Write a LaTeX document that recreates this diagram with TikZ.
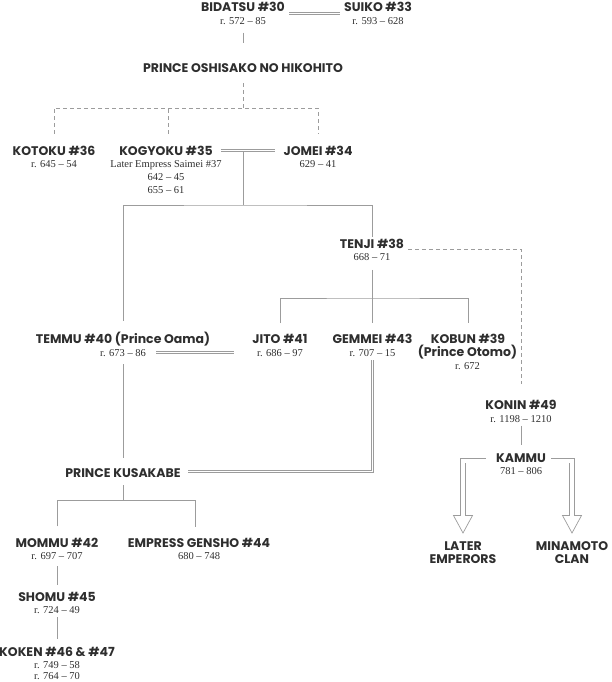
\documentclass[tikz,border=0pt]{standalone}
\usepackage{fontspec}
\usepackage{xcolor}
\usepackage{tikz}
\usetikzlibrary{positioning, calc}
\setmainfont{Liberation Serif}
\newfontfamily\namefont{Poppins}
\definecolor{ink}{HTML}{2E2E2E}
\definecolor{rule}{HTML}{9C9C9C}

\begin{document}
\begin{tikzpicture}[x=1pt, y=-1pt,
    who/.style={inner sep=0pt, anchor=base, text=ink, font=\namefont\bfseries\fontsize{12.5}{13}\selectfont},
    reign/.style={inner sep=0pt, align=center, text=ink, font=\fontsize{10.5}{13}\selectfont},
    kin/.style={draw=rule, line width=0.7pt},
    adopt/.style={draw=rule, line width=0.7pt, dash pattern=on 4pt off 3pt},
    wed/.style={draw=rule, line width=2.8pt, postaction={draw=white, line width=1.2pt}},
    descent/.style={draw=rule, line width=5.4pt, postaction={draw=white, line width=4pt}}]

    \useasboundingbox (0,0) rectangle (612,682);

    \node[who] (bidatsu) at (243,12) {BIDATSU \#30};
    \node[reign, below=5.5pt of bidatsu.base] (bidatsu-r) {r. 572 -- 85};
    \node[who] (suiko) at (378,12) {SUIKO \#33};
    \node[reign, below=5.5pt of suiko.base] (suiko-r) {r. 593 -- 628};

    \node[who] (oshisako) at (243,73) {PRINCE OSHISAKO NO HIKOHITO};

    \node[who] (kotoku) at (54,155) {KOTOKU \#36};
    \node[reign, below=5.5pt of kotoku.base] (kotoku-r) {r. 645 -- 54};
    \node[who] (kogyoku) at (166,155) {KOGYOKU \#35};
    \node[reign, below=5.5pt of kogyoku.base] (kogyoku-r) {Later Empress Saimei \#37\\642 -- 45\\655 -- 61};
    \node[who] (jomei) at (318,155) {JOMEI \#34};
    \node[reign, below=5.5pt of jomei.base] (jomei-r) {629 -- 41};

    \node[who] (tenji) at (372,248) {TENJI \#38};
    \node[reign, below=5.5pt of tenji.base] (tenji-r) {668 -- 71};

    \node[who] (temmu) at (123,343.5) {TEMMU \#40 (Prince Oama)};
    \node[reign, below=5.5pt of temmu.base] (temmu-r) {r. 673 -- 86};
    \node[who] (jito) at (280,343.5) {JITO \#41};
    \node[reign, below=5.5pt of jito.base] (jito-r) {r. 686 -- 97};
    \node[who] (gemmei) at (372.5,343.5) {GEMMEI \#43};
    \node[reign, below=5.5pt of gemmei.base] (gemmei-r) {r. 707 -- 15};
    \node[who] (kobun) at (468,343.5) {KOBUN \#39};
    \node[who] (kobun-alias) at (467.5,356.5) {(Prince Otomo)};
    \node[reign, below=5.5pt of kobun-alias.base] (kobun-r) {r. 672};

    \node[who] (konin) at (521,409.5) {KONIN \#49};
    \node[reign, below=5.5pt of konin.base] (konin-r) {r. 1198 -- 1210};
    \node[who] (kammu) at (521,462) {KAMMU};
    \node[reign, below=5.5pt of kammu.base] (kammu-r) {781 -- 806};

    \node[who] (kusakabe) at (123,477) {PRINCE KUSAKABE};

    \node[who] (mommu) at (57,547) {MOMMU \#42};
    \node[reign, below=5.5pt of mommu.base] (mommu-r) {r. 697 -- 707};
    \node[who] (gensho) at (199,547) {EMPRESS GENSHO \#44};
    \node[reign, below=5.5pt of gensho.base] (gensho-r) {680 -- 748};
    \node[who] (shomu) at (57,601) {SHOMU \#45};
    \node[reign, below=5.5pt of shomu.base] (shomu-r) {r. 724 -- 49};
    \node[who] (koken) at (57,656) {KOKEN \#46 \& \#47};
    \node[reign, below=5.5pt of koken.base, font=\fontsize{10.5}{11}\selectfont] (koken-r) {r. 749 -- 58\\r. 764 -- 70};

    \node[who, anchor=north, align=center] (later) at (463,541.5) {LATER\\EMPERORS};
    \node[who, anchor=north, align=center] (minamoto) at (572,541.5) {MINAMOTO\\CLAN};

    \coordinate (oshi-split) at (243,108);
    \coordinate (kj-top) at (243,152);
    \coordinate (kj-split) at (243,205);
    \coordinate (tenji-split) at (372,298);
    \coordinate (kusa-split) at (123,500.7);
    \coordinate (gemmei-drop) at (372.5,360);
    \coordinate (gemmei-bend) at (372.5,471.5);
    \coordinate (kusa-wed) at (188,471.5);

    \draw[kin] ([yshift=-7.5pt]bidatsu-r.south) -- ([yshift=21pt]oshisako.north);
    \draw[adopt] ([yshift=-10pt]oshisako.south) -- (oshi-split);
    \draw[adopt] ([yshift=11.5pt]kotoku.north) |- (oshi-split) -| ([yshift=11.5pt]jomei.north);
    \draw[adopt] ([shift={(2pt,11.5pt)}]kogyoku.north) -- ([xshift=2pt]kogyoku.north |- oshi-split);

    \draw[kin] (kj-top) -- (kj-split);
    \draw[kin] ([yshift=11pt]temmu.north) |- (kj-split) -| ([yshift=1pt]tenji.north);
    \draw[adopt] ([shift={(4pt,-5.7pt)}]tenji.east) -| ([yshift=15.5pt]konin.north);

    \draw[kin] ([yshift=-9pt]tenji-r.south) -- ([yshift=11pt]tenji.north |- gemmei.north);
    \draw[kin] ([yshift=11pt]jito.north) |- (tenji-split) -| ([yshift=11pt]kobun.north);

    \draw[kin] ([yshift=-7.5pt]temmu-r.south) -- ([yshift=10pt]kusakabe.north);
    \draw[kin] ([yshift=-8pt]kusakabe.south) -- (kusa-split);
    \draw[kin] ([yshift=11pt]mommu.north) |- (kusa-split) -| ([shift={(-4pt,11pt)}]gensho.north);
    \draw[kin] ([yshift=-6pt]mommu-r.south) -- ([yshift=7pt]shomu.north);
    \draw[kin] ([yshift=-3pt]shomu-r.south) -- ([yshift=7pt]koken.north);
    \draw[kin] ([yshift=-3.3pt]konin-r.south) -- ([yshift=8pt]kammu.north);

    \draw[wed] ([shift={(4pt,-6.5pt)}]bidatsu.east) -- ([shift={(-4pt,-6.5pt)}]suiko.west);
    \draw[wed] ([xshift=8pt]kogyoku.east) -- ([xshift=-8pt]jomei.west);
    \draw[wed] ([shift={(10pt,0.5pt)}]temmu-r.east) -- ([shift={(-23pt,0.5pt)}]temmu-r.east -| jito-r.west);
    \draw[wed] (gemmei-drop) -- (gemmei-bend) -- (kusa-wed);

    \draw[descent] ([shift={(-10pt,-3pt)}]kammu.west) -| ([yshift=26pt]later.north);
    \draw[descent] ([shift={(5pt,-3pt)}]kammu.east) -| ([yshift=26pt]minamoto.north);
    \draw[kin] ($(later.north)+(-2.7,-26)$) -- ++(-6.8,0) -- ++(9.5,17.5) -- ++(9.5,-17.5) -- ++(-6.8,0);
    \draw[kin] ($(minamoto.north)+(-2.7,-26)$) -- ++(-6.8,0) -- ++(9.5,17.5) -- ++(9.5,-17.5) -- ++(-6.8,0);
\end{tikzpicture}
\end{document}
